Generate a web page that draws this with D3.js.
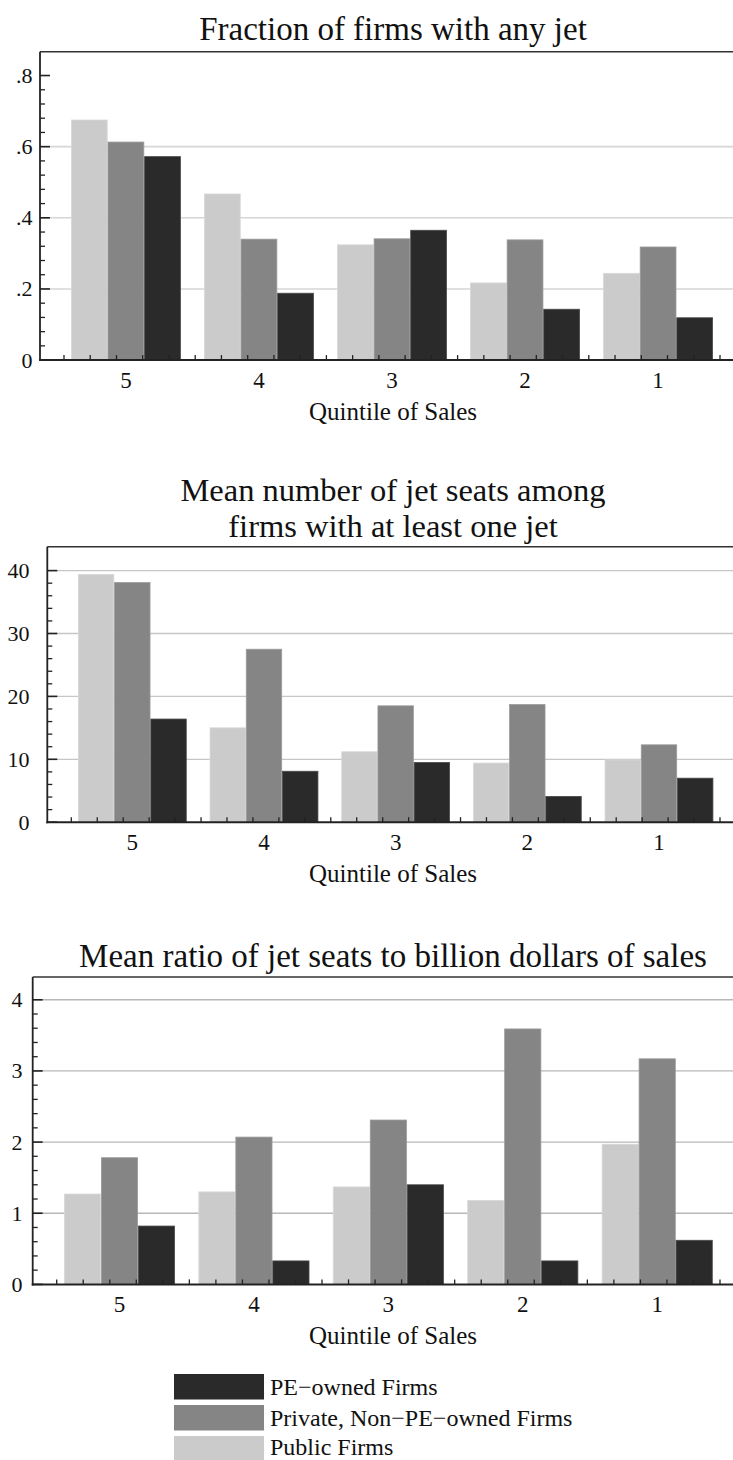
<!DOCTYPE html>
<html>
<head>
<meta charset="utf-8">
<script src="https://cdn.jsdelivr.net/npm/d3@7"></script>
<style>
  html, body { margin: 0; padding: 0; background: #fff; }
  svg { display: block; }
</style>
</head>
<body>
<svg id="chart" width="733" height="1460"></svg>
<script>
// Sales quintiles, largest firms first
const categories = ["5", "4", "3", "2", "1"];
const seriesKeys = ["public", "private", "pe"];
const seriesLabels = ["Public Firms", "Private, Non\u2212PE\u2212owned Firms", "PE\u2212owned Firms"];

// Fraction of firms with any jet
const fractionPublic  = [0.675, 0.467, 0.324, 0.217, 0.244];
const fractionPrivate = [0.613, 0.340, 0.341, 0.338, 0.318];
const fractionPE      = [0.572, 0.188, 0.365, 0.143, 0.119];

// Mean number of jet seats among firms with at least one jet
const seatsPublic  = [39.4, 15.0, 11.2, 9.4, 9.9];
const seatsPrivate = [38.1, 27.5, 18.5, 18.7, 12.3];
const seatsPE      = [16.4, 8.1, 9.5, 4.1, 7.0];

// Mean ratio of jet seats to billion dollars of sales
const ratioPublic  = [1.27, 1.30, 1.37, 1.18, 1.97];
const ratioPrivate = [1.78, 2.07, 2.31, 3.59, 3.17];
const ratioPE      = [0.82, 0.33, 1.40, 0.33, 0.62];

// Axis tick labels
const fractionTicks = [0, 0.2, 0.4, 0.6, 0.8];
const fractionTickLabels = ["0", ".2", ".4", ".6", ".8"];
const seatsTicks = [0, 10, 20, 30, 40];
const seatsTickLabels = ["0", "10", "20", "30", "40"];
const ratioTicks = [0, 1, 2, 3, 4];
const ratioTickLabels = ["0", "1", "2", "3", "4"];

const xTitle = "Quintile of Sales";

const fills = { public: "#cbcbcb", private: "#858585", pe: "#2a2a2a" };
const edges = { public: "#d8d8d8", private: "#9a9a9a", pe: "#4a4a4a" };

const serif = "'Liberation Serif', 'Times New Roman', Times, 'DejaVu Serif', serif";

const svg = d3.select("#chart")
  .attr("font-family", serif)
  .style("font-family", serif);

function label(sel) {
  return sel.attr("font-family", serif).attr("fill", "#111");
}

const panels = [
  {
    title: ["Fraction of firms with any jet"], titleBase: [40], titleSize: 33,
    axisX: 40, frameTop: 51.7, base: 360.1, topValue: 0.867,
    ticks: fractionTicks, tickLabels: fractionTickLabels, grid: [0.2, 0.4, 0.6],
    minorStep: 0.04, labelRight: 32.5, gridColor: "#d6d6d6", gridWidth: 1.6,
    series: { public: fractionPublic, private: fractionPrivate, pe: fractionPE }
  },
  {
    title: ["Mean number of jet seats among", "firms with at least one jet"], titleBase: [501, 537], titleSize: 32.5,
    axisX: 47.3, frameTop: 546.7, base: 822.2, topValue: 43.8,
    ticks: seatsTicks, tickLabels: seatsTickLabels, grid: [10, 20, 30, 40],
    minorStep: 2, labelRight: 29.5, gridColor: "#c6c6c6", gridWidth: 1.3,
    series: { public: seatsPublic, private: seatsPrivate, pe: seatsPE }
  },
  {
    title: ["Mean ratio of jet seats to billion dollars of sales"], titleBase: [967], titleSize: 33,
    axisX: 32.7, frameTop: 977, base: 1284.4, topValue: 4.32,
    ticks: ratioTicks, tickLabels: ratioTickLabels, grid: [1, 2, 3, 4],
    minorStep: 0.2, labelRight: 22.5, gridColor: "#b8b8b8", gridWidth: 1.3,
    series: { public: ratioPublic, private: ratioPrivate, pe: ratioPE }
  }
];

// The plot region runs a little past the right edge of the canvas
const plotRight = 744;

panels.forEach(p => {
  const g = svg.append("g");

  const y = d3.scaleLinear().domain([0, p.topValue]).range([p.base, p.frameTop]);
  const x = d3.scaleBand().domain(categories)
    .range([p.axisX, plotRight]).paddingInner(0.1745).paddingOuter(0.233);
  const xs = d3.scaleBand().domain(seriesKeys).range([0, x.bandwidth()]);

  // title
  p.title.forEach((line, i) => {
    label(g.append("text")).attr("x", 393).attr("y", p.titleBase[i])
      .attr("text-anchor", "middle").attr("font-size", p.titleSize).text(line);
  });

  // gridlines
  g.append("g").selectAll("line").data(p.grid).join("line")
    .attr("x1", p.axisX).attr("x2", plotRight)
    .attr("y1", d => y(d)).attr("y2", d => y(d))
    .attr("stroke", p.gridColor).attr("stroke-width", p.gridWidth);

  // bars
  const rows = categories.map((c, i) => ({ c, i }));
  const groups = g.append("g").selectAll("g").data(rows).join("g")
    .attr("transform", d => `translate(${x(d.c)},0)`);
  groups.selectAll("rect")
    .data(d => seriesKeys.map(k => ({ k, v: p.series[k][d.i] })))
    .join("rect")
    .attr("x", d => xs(d.k) + 0.4)
    .attr("width", xs.bandwidth() - 0.8)
    .attr("y", d => y(d.v))
    .attr("height", d => p.base - y(d.v))
    .attr("fill", d => fills[d.k])
    .attr("stroke", d => edges[d.k]).attr("stroke-width", 0.8);

  // frame top
  g.append("line").attr("x1", p.axisX).attr("x2", plotRight)
    .attr("y1", p.frameTop).attr("y2", p.frameTop)
    .attr("stroke", "#333").attr("stroke-width", 1.6);

  // y axis: line, major and minor ticks, labels
  const minor = d3.range(p.minorStep, p.ticks[p.ticks.length - 1], p.minorStep)
    .filter(v => !p.ticks.some(t => Math.abs(t - v) < p.minorStep / 10));
  g.append("g").selectAll("line").data(minor).join("line")
    .attr("x1", p.axisX).attr("x2", p.axisX + 5)
    .attr("y1", d => y(d)).attr("y2", d => y(d))
    .attr("stroke", "#222").attr("stroke-width", 1.3);
  g.append("g").selectAll("line").data(p.ticks).join("line")
    .attr("x1", p.axisX).attr("x2", p.axisX + 10)
    .attr("y1", d => y(d)).attr("y2", d => y(d))
    .attr("stroke", "#222").attr("stroke-width", 1.6);
  label(g.append("g").selectAll("text").data(p.ticks).join("text"))
    .attr("x", p.labelRight).attr("y", d => y(d) + 7.5)
    .attr("text-anchor", "end").attr("font-size", 22)
    .text((d, i) => p.tickLabels[i]);
  g.append("line").attr("x1", p.axisX).attr("x2", p.axisX)
    .attr("y1", p.frameTop).attr("y2", p.base + 1)
    .attr("stroke", "#222").attr("stroke-width", 1.8);

  // x axis: baseline, small upward ticks, category labels, axis title
  const tickPos = d3.scaleLinear().domain([0, 25]).range([p.axisX + 24, plotRight - 24]);
  g.append("g").selectAll("line").data(d3.range(26)).join("line")
    .attr("x1", d => tickPos(d)).attr("x2", d => tickPos(d))
    .attr("y1", p.base).attr("y2", p.base - 5)
    .attr("stroke", "#222").attr("stroke-width", 1.3);
  g.append("line").attr("x1", p.axisX - 1).attr("x2", plotRight)
    .attr("y1", p.base).attr("y2", p.base)
    .attr("stroke", "#222").attr("stroke-width", 2);
  label(g.append("g").selectAll("text").data(categories).join("text"))
    .attr("x", d => x(d) + x.bandwidth() / 2).attr("y", p.base + 27.5)
    .attr("text-anchor", "middle").attr("font-size", 23).text(d => d);
  label(g.append("text")).attr("x", 393).attr("y", p.base + 59.5)
    .attr("text-anchor", "middle").attr("font-size", 25).text(xTitle);
});

// legend: PE-owned on top, then private, then public
const legendOrder = [2, 1, 0];
const legendY = d3.scaleBand().domain(legendOrder).range([1374, 1461.5]).paddingInner(0.177);
const legend = svg.append("g");
legend.selectAll("rect").data(legendOrder).join("rect")
  .attr("x", 174).attr("width", 90)
  .attr("y", d => legendY(d)).attr("height", legendY.bandwidth())
  .attr("fill", d => fills[seriesKeys[d]]);
label(legend.selectAll("text").data(legendOrder).join("text"))
  .attr("x", 270).attr("y", d => Math.min(legendY(d) + legendY.bandwidth() / 2 + 8, 1454.5))
  .attr("font-size", 24).text(d => seriesLabels[d]);
</script>
</body>
</html>
